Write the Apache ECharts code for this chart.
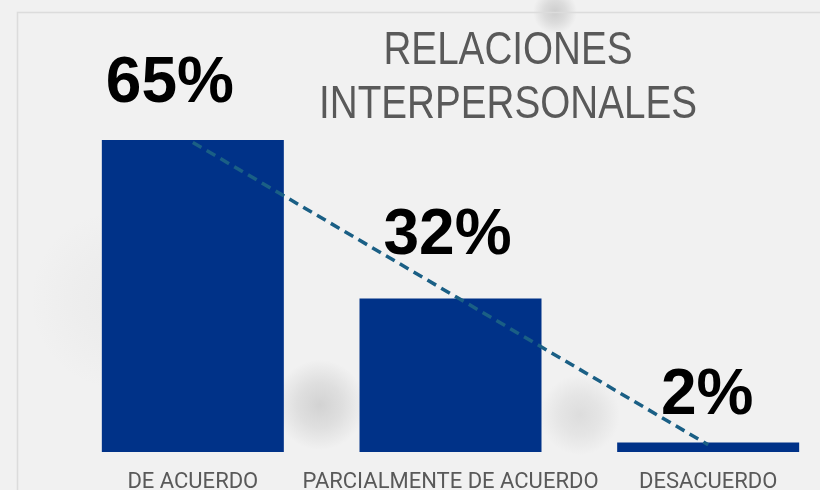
<!DOCTYPE html>
<html>
<head>
<meta charset="utf-8">
<title>Relaciones interpersonales</title>
<script src="https://cdn.jsdelivr.net/npm/echarts@6/dist/echarts.min.js"></script>
<style>
  html, body { margin: 0; padding: 0; background: #f1f1f1; }
  #chart { width: 820px; height: 490px; }
</style>
</head>
<body>
<div id="chart"></div>
<script>
// datos
const categorias = ['DE ACUERDO', 'PARCIALMENTE DE ACUERDO', 'DESACUERDO']
const porcentajes = [65, 32, 2]
// linea de tendencia (lineal) tal como se ve en la imagen
const tendencia = [64.5, 33, 1.5]

const chart = echarts.init(document.getElementById('chart'))

// desplazamiento de cada etiqueta respecto a la barra
const labelOffsets = [[-23, -24], [-3, -30], [-1, -14]]

// mancha difusa para el fondo
function mancha(cx, cy, rx, ry, alpha) {
  return {
    type: 'ellipse', z: -10, silent: true,
    shape: { cx: cx, cy: cy, rx: rx, ry: ry },
    style: {
      fill: new echarts.graphic.RadialGradient(0.5, 0.5, 0.5, [
        { offset: 0, color: 'rgba(140,140,140,' + alpha + ')' },
        { offset: 0.5, color: 'rgba(140,140,140,' + (alpha * 0.6) + ')' },
        { offset: 1, color: 'rgba(140,140,140,0)' }
      ])
    }
  }
}

chart.setOption({
  backgroundColor: '#f1f1f1',
  animation: false,
  graphic: [
    mancha(320, 405, 70, 45, 0.3),
    mancha(580, 415, 65, 40, 0.2),
    mancha(555, 12, 22, 30, 0.35),
    mancha(120, 300, 90, 120, 0.06),
    // marco
    {
      type: 'rect', z: -5, silent: true,
      shape: { x: 17.5, y: 12.5, width: 830, height: 500 },
      style: { fill: 'none', stroke: '#dcdcdc', lineWidth: 1.5 }
    },
    // titulo (letra estrecha)
    {
      type: 'text', z: 10, silent: true,
      x: 508, y: 24, scaleX: 0.84,
      style: {
        text: 'RELACIONES\nINTERPERSONALES',
        align: 'center',
        verticalAlign: 'top',
        fontFamily: '"Liberation Sans", Arial, sans-serif',
        fontSize: 46,
        lineHeight: 54,
        fill: '#595959'
      }
    }
  ],
  grid: {
    left: 64,
    width: 773,
    top: 68,
    bottom: 38,
    outerBoundsMode: 'none'
  },
  xAxis: {
    type: 'category',
    data: categorias,
    axisLine: { show: false },
    axisTick: { show: false },
    axisLabel: {
      interval: 0,
      margin: 19,
      fontFamily: 'Roboto, sans-serif',
      fontSize: 22,
      color: '#595959'
    }
  },
  yAxis: {
    type: 'value',
    min: 0,
    max: 80,
    show: false,
    splitLine: { show: false }
  },
  series: [
    {
      type: 'bar',
      barWidth: 182,
      data: porcentajes.map((v, i) => ({
        value: v,
        label: { offset: labelOffsets[i] }
      })),
      itemStyle: { color: '#003288' },
      label: {
        show: true,
        position: 'top',
        distance: 0,
        formatter: '{c}%',
        fontFamily: '"Liberation Sans", Arial, sans-serif',
        fontWeight: 'bold',
        fontSize: 64,
        color: '#000000'
      },
      z: 2
    },
    {
      type: 'line',
      data: tendencia,
      symbol: 'none',
      lineStyle: {
        color: '#1a5f85',
        width: 3.5,
        type: [10, 6]
      },
      z: 3
    }
  ]
})
</script>
</body>
</html>
